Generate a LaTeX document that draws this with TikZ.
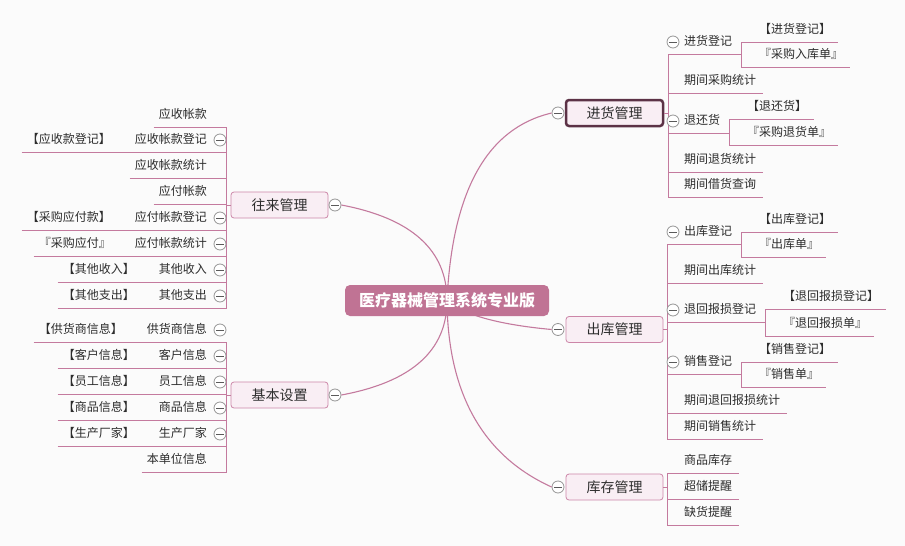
\documentclass[tikz,border=0pt]{standalone}
\usepackage{fontspec}
\usepackage{tikz}
\newfontfamily\cjk{Noto Sans CJK SC}
\definecolor{bg}{RGB}{251,251,251}
\definecolor{lnk}{RGB}{196,122,158}
\definecolor{hubfill}{RGB}{192,115,148}
\definecolor{boxfill}{RGB}{249,238,244}
\definecolor{boxline}{RGB}{204,134,168}
\definecolor{pick}{RGB}{92,50,70}
\definecolor{foldc}{RGB}{150,150,150}
\definecolor{txt}{RGB}{45,45,45}

\begin{document}
\begin{tikzpicture}
	[
		x=1pt, y=-1pt,
		C/.style = {rectangle, rounded corners=5pt, fill=hubfill, draw=none, text=white, minimum width=204pt, minimum height=31pt, font=\cjk\fontsize{16}{18}\selectfont\bfseries},
		B/.style = {rectangle, rounded corners=3pt, fill=boxfill, draw=boxline, line width=0.8pt, minimum width=97pt, minimum height=26pt, text=txt, font=\cjk\fontsize{14}{16}\selectfont},
		S/.style = {draw=pick, line width=2.5pt},
		R/.style = {anchor=south west, inner xsep=7pt, inner ysep=6pt, text height=9pt, text depth=2pt, text=txt, font=\cjk\fontsize{12}{14}\selectfont, execute at begin node={\hspace*{9pt}}},
		L/.style = {anchor=south east, inner xsep=5pt, inner ysep=6pt, text height=9pt, text depth=2pt, text=txt, font=\cjk\fontsize{12}{14}\selectfont, execute at end node={\hspace*{14pt}}},
		F/.style = {circle, draw=foldc, fill=white, line width=0.8pt, inner sep=0pt, minimum size=12pt,
			path picture={\draw[foldc!60!black, line width=0.8pt] ([xshift=-4pt]path picture bounding box.center) -- ([xshift=4pt]path picture bounding box.center);}},
		W/.style = {draw=lnk, line width=0.9pt},
	]

	\useasboundingbox (0,0) rectangle (905,546);
	\fill[bg] (0,0) rectangle (905,546);
	\coordinate (c) at (447,300.5);

	% main topics
	\node[B,S] (jh) at (614.5,113)   {进货管理};
	\node[B]   (ck) at (614.5,329.5) {出库管理};
	\node[B]   (kc) at (614.5,487)   {库存管理};
	\node[B]   (wl) at (279.5,205)   {往来管理};
	\node[B]   (jb) at (279.5,395)   {基本设置};

	\node[F] (jh-f) at (558,113)   {};
	\node[F] (ck-f) at (558,329.5) {};
	\node[F] (kc-f) at (558,487)   {};
	\node[F] (wl-f) at (335,205)   {};
	\node[F] (jb-f) at (335,395)   {};

	% curves from the centre
	\draw[W, line width=1.1pt] (c) .. controls (452.3,190) and (487.5,128) .. (jh-f.west);
	\draw[W, line width=1.1pt] (c) .. controls (462.3,314.4) and (497.5,324.5) .. (ck-f.west);
	\draw[W, line width=1.1pt] (c) .. controls (447.7,393.3) and (482.7,455.7) .. (kc-f.west);
	\draw[W, line width=1.1pt] (c) .. controls (447,250) and (411.5,218.3) .. (wl-f.east);
	\draw[W, line width=1.1pt] (c) .. controls (447,350.7) and (411.5,382) .. (jb-f.east);

	% purchase
	\node[R] (jh1)  at (668,54)  {进货登记};
	\node[R] (jh1a) at (743,42)  {【进货登记】};
	\node[R] (jh1b) at (743,67)  {『采购入库单』};
	\node[R] (jh2)  at (668,93)  {期间采购统计};
	\node[R] (jh3)  at (668,133) {退还货};
	\node[R] (jh3a) at (731,119) {【退还货】};
	\node[R] (jh3b) at (731,145) {『采购退货单』};
	\node[R] (jh4)  at (668,172) {期间退货统计};
	\node[R] (jh5)  at (668,197) {期间借货查询};

	% outgoing
	\node[R] (ck1)  at (668,244) {出库登记};
	\node[R] (ck1a) at (743,232) {【出库登记】};
	\node[R] (ck1b) at (743,257) {『出库单』};
	\node[R] (ck2)  at (668,283) {期间出库统计};
	\node[R] (ck3)  at (668,322) {退回报损登记};
	\node[R] (ck3a) at (767,309) {【退回报损登记】};
	\node[R] (ck3b) at (767,336) {『退回报损单』};
	\node[R] (ck4)  at (668,374) {销售登记};
	\node[R] (ck4a) at (743,362) {【销售登记】};
	\node[R] (ck4b) at (743,387) {『销售单』};
	\node[R] (ck5)  at (668,413) {期间退回报损统计};
	\node[R] (ck6)  at (668,439) {期间销售统计};

	% stock
	\node[R] (kc1) at (668,473) {商品库存};
	\node[R] (kc2) at (668,499) {超储提醒};
	\node[R] (kc3) at (668,525) {缺货提醒};

	% accounts
	\node[L] (wl1)  at (226,127) {应收帐款};
	\node[L] (wl2)  at (226,152) {应收帐款登记};
	\node[L] (wl2a) at (130,152) {【应收款登记】};
	\node[L] (wl3)  at (226,178) {应收帐款统计};
	\node[L] (wl4)  at (226,204) {应付帐款};
	\node[L] (wl5)  at (226,230) {应付帐款登记};
	\node[L] (wl5a) at (130,230) {【采购应付款】};
	\node[L] (wl6)  at (226,256) {应付帐款统计};
	\node[L] (wl6a) at (130,256) {『采购应付』};
	\node[L] (wl7)  at (226,282) {其他收入};
	\node[L] (wl7a) at (154,282) {【其他收入】};
	\node[L] (wl8)  at (226,308) {其他支出};
	\node[L] (wl8a) at (154,308) {【其他支出】};

	% settings
	\node[L] (jb1)  at (226,342) {供货商信息};
	\node[L] (jb1a) at (142,342) {【供货商信息】};
	\node[L] (jb2)  at (226,368) {客户信息};
	\node[L] (jb2a) at (154,368) {【客户信息】};
	\node[L] (jb3)  at (226,394) {员工信息};
	\node[L] (jb3a) at (154,394) {【员工信息】};
	\node[L] (jb4)  at (226,420) {商品信息};
	\node[L] (jb4a) at (154,420) {【商品信息】};
	\node[L] (jb5)  at (226,446) {生产厂家};
	\node[L] (jb5a) at (154,446) {【生产厂家】};
	\node[L] (jb6)  at (226,472) {本单位信息};

	% underlines
	\foreach \n in {jh1,jh1a,jh1b,jh2,jh3,jh3a,jh3b,jh4,jh5,ck1,ck1a,ck1b,ck2,ck3,ck3a,ck3b,ck4,ck4a,ck4b,ck5,ck6,kc1,kc2,kc3,
		wl1,wl2,wl2a,wl3,wl4,wl5,wl5a,wl6,wl6a,wl7,wl7a,wl8,wl8a,jb1,jb1a,jb2,jb2a,jb3,jb3a,jb4,jb4a,jb5,jb5a,jb6}
	\draw[W] (\n.south west) -- (\n.south east);

	\foreach \from/\to in {jh/jh1,jh/jh2,jh/jh3,jh/jh4,jh/jh5,ck/ck1,ck/ck2,ck/ck3,ck/ck4,ck/ck5,ck/ck6,kc/kc1,kc/kc2,kc/kc3}
	\draw[W] (\from.east) -- ++(4,0) |- (\to.south west);

	\foreach \from/\to in {jh1/jh1a,jh1/jh1b,jh3/jh3a,jh3/jh3b,ck1/ck1a,ck1/ck1b,ck3/ck3a,ck3/ck3b,ck4/ck4a,ck4/ck4b}
	\draw[W] (\from.south east) -- ++(2,0) |- (\to.south west);

	\foreach \from/\to in {wl/wl1,wl/wl2,wl/wl3,wl/wl4,wl/wl5,wl/wl6,wl/wl7,wl/wl8,jb/jb1,jb/jb2,jb/jb3,jb/jb4,jb/jb5,jb/jb6}
	\draw[W] (\from.west) -- ++(-4,0) |- (\to.south east);

	\foreach \from/\to in {wl2/wl2a,wl5/wl5a,wl6/wl6a,wl7/wl7a,wl8/wl8a,jb1/jb1a,jb2/jb2a,jb3/jb3a,jb4/jb4a,jb5/jb5a}
	\draw[W] (\from.south west) -- (\to.south east);

	% fold marks
	\foreach \n in {jh1,jh3,ck1,ck3,ck4}
	\node[F] (\n-f) at ([shift={(5pt,12pt)}]\n.south west) {};
	\foreach \n in {wl2,wl5,wl6,wl7,wl8,jb1,jb2,jb3,jb4,jb5}
	\node[F] (\n-f) at ([shift={(-6pt,12pt)}]\n.south east) {};

	\node[C] (hub) at (c) {医疗器械管理系统专业版};

\end{tikzpicture}
\end{document}
